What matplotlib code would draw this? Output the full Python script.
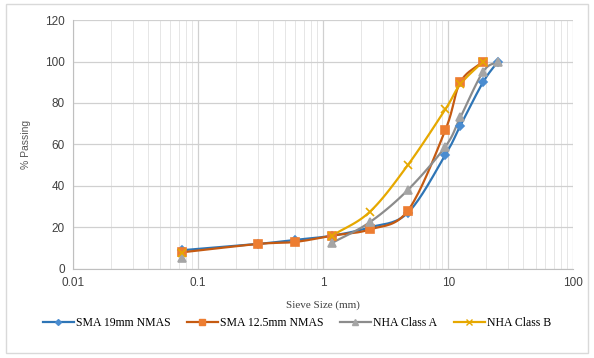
import numpy as np
import matplotlib.pyplot as plt
from matplotlib.patches import Rectangle
from matplotlib.ticker import FixedLocator, NullFormatter

# sieve sizes (mm) and % passing (nan = no value, excel leaves a gap)
sieves = [0.075, 0.3, 0.6, 1.18, 2.36, 4.75, 9.5, 12.5, 19, 25]
sma_19 = [9, 12, 14, 16, 20, 27, 55, 69, 90, 100]
sma_125 = [8, 12, 13, 16, 19, 28, 67, 90, 100, np.nan]
nha_a = [5, np.nan, np.nan, 12.5, 22.5, 38, 59, 73, 95, 100]
nha_b = [7.5, np.nan, np.nan, 16, 27.5, 50, 77, 89, 100, np.nan]

labels = ['SMA 19mm NMAS', 'SMA 12.5mm NMAS', 'NHA Class A', 'NHA Class B']


def smooth(xs, ys, n=20):
    # catmull-rom through the points in log-x space (like excel "smoothed line")
    lx = np.log10(xs)
    y = np.asarray(ys, float)
    if len(lx) < 2:
        return np.array(xs), y
    px = np.concatenate([[2 * lx[0] - lx[1]], lx, [2 * lx[-1] - lx[-2]]])
    py = np.concatenate([[2 * y[0] - y[1]], y, [2 * y[-1] - y[-2]]])
    outx, outy = [], []
    t = np.linspace(0, 1, n)
    for i in range(1, len(px) - 2):
        for p, out in ((px, outx), (py, outy)):
            p0, p1, p2, p3 = p[i - 1], p[i], p[i + 1], p[i + 2]
            seg = 0.5 * ((2 * p1) + (-p0 + p2) * t +
                         (2 * p0 - 5 * p1 + 4 * p2 - p3) * t ** 2 +
                         (-p0 + 3 * p1 - 3 * p2 + p3) * t ** 3)
            out.extend(seg)
    return 10 ** np.array(outx), np.array(outy)


def runs(xs, ys):
    # split a series into pieces without gaps
    pieces, cur = [], []
    for x, y in zip(xs, ys):
        if np.isnan(y):
            if cur:
                pieces.append(cur)
            cur = []
        else:
            cur.append((x, y))
    if cur:
        pieces.append(cur)
    return pieces


fig = plt.figure(figsize=(5.94, 3.58), dpi=100)
ax = fig.add_axes([0.123, 0.249, 0.842, 0.695])

fig.patches.append(Rectangle((0.01, 0.015), 0.98, 0.975, transform=fig.transFigure,
                             fill=False, edgecolor='#d9d9d9', lw=1))

series = [
    (sma_19, '#2e75b6', '#4a8cd0', 'D', 4),
    (sma_125, '#c55a11', '#ed7d31', 's', 6),
    (nha_a, '#8c8c8c', '#a5a5a5', '^', 6),
    (nha_b, '#e6a800', '#ffc000', 'x', 6),
]

for (ys, lc, mc, mk, ms), lab in zip(series, labels):
    for piece in runs(sieves, ys):
        px, py = zip(*piece)
        sx, sy = smooth(px, py)
        ax.plot(sx, sy, color=lc, lw=1.6, zorder=3)
    ax.plot(sieves, ys, linestyle='none', marker=mk, ms=ms, color=mc,
            markeredgecolor=mc if mk != 'x' else lc, mew=1.2, zorder=4)
    ax.plot([], [], color=lc, lw=1.6, marker=mk, ms=ms - 1, markerfacecolor=mc,
            markeredgecolor=mc if mk != 'x' else lc, label=lab)

ax.set_xscale('log')
ax.set_xlim(0.01, 100)
ax.set_ylim(0, 120)
ax.set_yticks(range(0, 121, 20))
ax.set_xticks([0.01, 0.1, 1, 10, 100])
ax.set_xticklabels(['0.01', '0.1', '1', '10', '100'])
ax.xaxis.set_minor_locator(FixedLocator([m * 10.0 ** e for e in range(-2, 2) for m in range(2, 10)]))
ax.xaxis.set_minor_formatter(NullFormatter())

ax.grid(True, which='major', color='#d0d0d0', lw=0.9)
ax.grid(True, which='minor', axis='x', color='#e6e6e6', lw=0.7)
ax.set_axisbelow(True)
for s in ['top', 'right']:
    ax.spines[s].set_visible(False)
for s in ['left', 'bottom']:
    ax.spines[s].set_color('#bfbfbf')
ax.tick_params(which='both', length=0, labelsize=8.5, colors='#404040', pad=6)
for t in ax.get_xticklabels() + ax.get_yticklabels():
    t.set_family('Liberation Sans')

ax.set_ylabel('% Passing', fontsize=7.5, color='#595959', family='Liberation Sans', labelpad=10)
ax.set_xlabel('Sieve Size (mm)', fontsize=8, color='#404040', family='Liberation Serif', labelpad=8)

fig.legend(loc='center', bbox_to_anchor=(0.5, 0.098), ncol=4, frameon=False,
           prop={'family': 'Liberation Serif', 'size': 8.5}, handlelength=2.6,
           columnspacing=1.4, handletextpad=0.2)

fig.savefig('out.png', dpi=100)
